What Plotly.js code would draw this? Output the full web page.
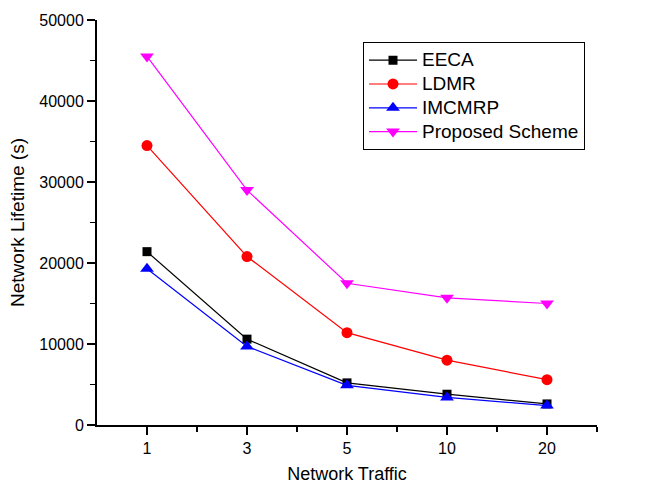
<!DOCTYPE html>
<html>
<head>
<meta charset="utf-8">
<script src="https://cdn.plot.ly/plotly-3.0.1.min.js"></script>
<style>html,body{margin:0;padding:0;background:#fff;}#chart{width:651px;height:484px;}</style>
</head>
<body>
<div id="chart"></div>
<script>
const categories = ["1", "3", "5", "10", "20"];
const seriesNames = ["EECA", "LDMR", "IMCMRP", "Proposed Scheme"];
const eeca = [21400, 10600, 5200, 3800, 2600];
const ldmr = [34500, 20800, 11400, 8000, 5600];
const imcmrp = [19300, 9700, 4900, 3400, 2400];
const proposed = [45500, 29000, 17500, 15700, 15000];
const yTicks = [0, 10000, 20000, 30000, 40000, 50000];

const xIdx = categories.map((c, i) => i);
function tr(name, y, color, symbol, size) {
  return {
    x: xIdx, y: y, name: '<span style="font-size:19px">' + name + '</span>',
    type: 'scatter', mode: 'lines+markers',
    line: {color: color, width: 1.2},
    marker: {color: color, symbol: symbol, size: size, line: {width: 0}}
  };
}
const data = [
  tr(seriesNames[0], eeca, '#000000', 'square', 9),
  tr(seriesNames[1], ldmr, '#ff0000', 'circle', 11),
  tr(seriesNames[2], imcmrp, '#0000ff', 'triangle-up', 12),
  tr(seriesNames[3], proposed, '#ff00ff', 'triangle-down', 12)
];
const font = {family: 'Liberation Sans, Arial, sans-serif', color: '#000'};
const layout = {
  width: 651, height: 484,
  margin: {l: 97, r: 54, t: 20, b: 59},
  paper_bgcolor: '#fff', plot_bgcolor: '#fff',
  font: font,
  showlegend: true,
  legend: {
    x: 0.532, y: 0.945, xanchor: 'left', yanchor: 'top',
    bordercolor: '#000', borderwidth: 1, bgcolor: '#fff',
    font: {family: font.family, size: 16, color: '#000'},
    itemwidth: 48, tracegroupgap: 0
  },
  xaxis: {
    range: [-0.5, 4.5],
    tickmode: 'array', tickvals: xIdx, ticktext: categories,
    ticks: 'outside', ticklen: 8, tickwidth: 1.5, tickcolor: '#000',
    minor: {tickvals: [0.5, 1.5, 2.5, 3.5, 4.5], ticks: 'outside', ticklen: 5, tickwidth: 1.5, tickcolor: '#000'},
    showline: true, linecolor: '#000', linewidth: 2,
    showgrid: false, zeroline: false,
    tickfont: {family: font.family, size: 16, color: '#000'},
    title: {text: 'Network Traffic', font: {family: font.family, size: 18, color: '#000'}, standoff: 14}
  },
  yaxis: {
    range: [0, 50000],
    tickmode: 'array', tickvals: yTicks,
    ticks: 'outside', ticklen: 8, tickwidth: 1.5, tickcolor: '#000',
    minor: {dtick: 5000, ticks: 'outside', ticklen: 5, tickwidth: 1.5, tickcolor: '#000'},
    showline: true, linecolor: '#000', linewidth: 2,
    showgrid: false, zeroline: false,
    tickformat: 'd',
    tickfont: {family: font.family, size: 16, color: '#000'},
    title: {text: 'Network Lifetime (s)', font: {family: font.family, size: 19, color: '#000'}, standoff: 10}
  }
};
Plotly.newPlot('chart', data, layout, {displayModeBar: false, staticPlot: true});
</script>
</body>
</html>
